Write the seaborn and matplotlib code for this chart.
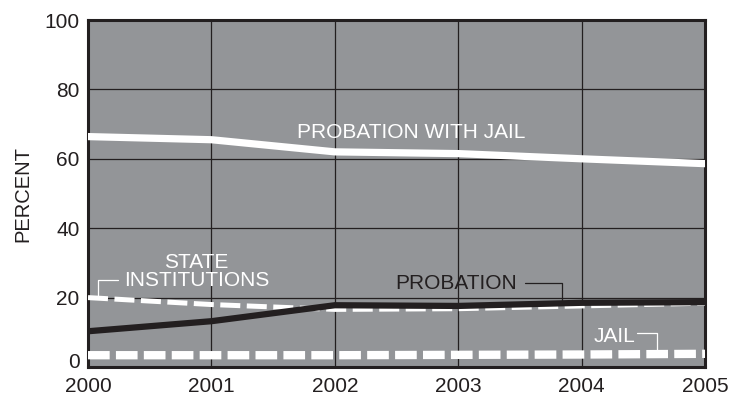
import matplotlib
matplotlib.use("Agg")
import matplotlib.pyplot as plt
import matplotlib.transforms as mtransforms
import seaborn as sns
import pandas as pd

years = [2000, 2001, 2002, 2003, 2004, 2005]
probation_with_jail = [66.4, 65.5, 62.0, 61.5, 60.0, 58.6]
probation = [10.3, 13.2, 17.8, 17.6, 18.5, 18.7]
state_institutions = [20.0, 18.0, 16.6, 16.8, 17.6, 18.4]
jail = [3.4, 3.4, 3.4, 3.5, 3.6, 3.8]
y_ticks = [0, 20, 40, 60, 80, 100]

sns.set_theme(style="white")
plt.rcParams['font.family'] = ['Liberation Sans', 'DejaVu Sans']

fig = plt.figure(figsize=(7.35, 3.96), dpi=100)
ax = fig.add_axes([88/735, 1-367/396, (705-88)/735, (367-20)/396])
ax.set_facecolor('#939598')

df = pd.DataFrame({'year': years, 'pwj': probation_with_jail, 'prob': probation,
                   'state': state_institutions, 'jail': jail})

sns.lineplot(data=df, x='year', y='jail', ax=ax, color='white', lw=6.0, zorder=3)
ax.lines[-1].set_dashes([2.6, 0.75])
ax.lines[-1].set_dash_capstyle('butt')
sns.lineplot(data=df, x='year', y='state', ax=ax, color='white', lw=3.6, zorder=3)
ax.lines[-1].set_dashes([4.0, 1.3])
ax.lines[-1].set_dash_capstyle('butt')
sns.lineplot(data=df, x='year', y='prob', ax=ax, color='#231f20', lw=4.5, zorder=4)
sns.lineplot(data=df, x='year', y='pwj', ax=ax, color='white', lw=5.2, zorder=4)

ax.set_xlim(2000, 2005)
ax.set_ylim(0, 100)
ax.set_xticks(years)
ax.set_xticklabels([str(y) for y in years])
ax.set_yticks(y_ticks)
ax.set_yticklabels([str(v) for v in y_ticks])
ax.grid(True, color='#231f20', lw=0.9)
ax.set_axisbelow(True)
ax.tick_params(axis='both', length=0, labelsize=15, colors='#231f20')
ax.tick_params(axis='x', pad=7)
ax.tick_params(axis='y', pad=6)
for s in ax.spines.values():
    s.set_visible(True)
    s.set_color('#231f20')
    s.set_linewidth(2.2)
ax.set_xlabel('')
ax.set_ylabel('PERCENT', fontsize=14.5, color='#231f20', labelpad=9)

# nudge the "0" label up like the reference
lab0 = ax.get_yticklabels()[0]
lab0.set_transform(lab0.get_transform() + mtransforms.ScaledTranslation(0, 7/100, fig.dpi_scale_trans))

kw = dict(color='white', fontsize=15, ha='center', va='center', zorder=6)
ax.text(2002.62, 67.6, 'PROBATION WITH JAIL', **kw)
ax.text(2000.88, 27.6, 'STATE\nINSTITUTIONS', linespacing=0.95, **kw)
ax.text(2002.98, 24.0, 'PROBATION', color='#231f20', fontsize=15, ha='center', va='center', zorder=6)
ax.text(2004.27, 8.8, 'JAIL', **kw)

# leader lines
ax.plot([2000.08, 2000.08, 2000.24], [20.0, 25.0, 25.0], color='white', lw=0.9, zorder=5)
ax.plot([2003.54, 2003.84, 2003.84], [24.1, 24.1, 18.6], color='#231f20', lw=0.9, zorder=5)
ax.plot([2004.45, 2004.61, 2004.61], [9.9, 9.9, 4.2], color='white', lw=0.9, zorder=5)

fig.savefig('out.png', dpi=100)
